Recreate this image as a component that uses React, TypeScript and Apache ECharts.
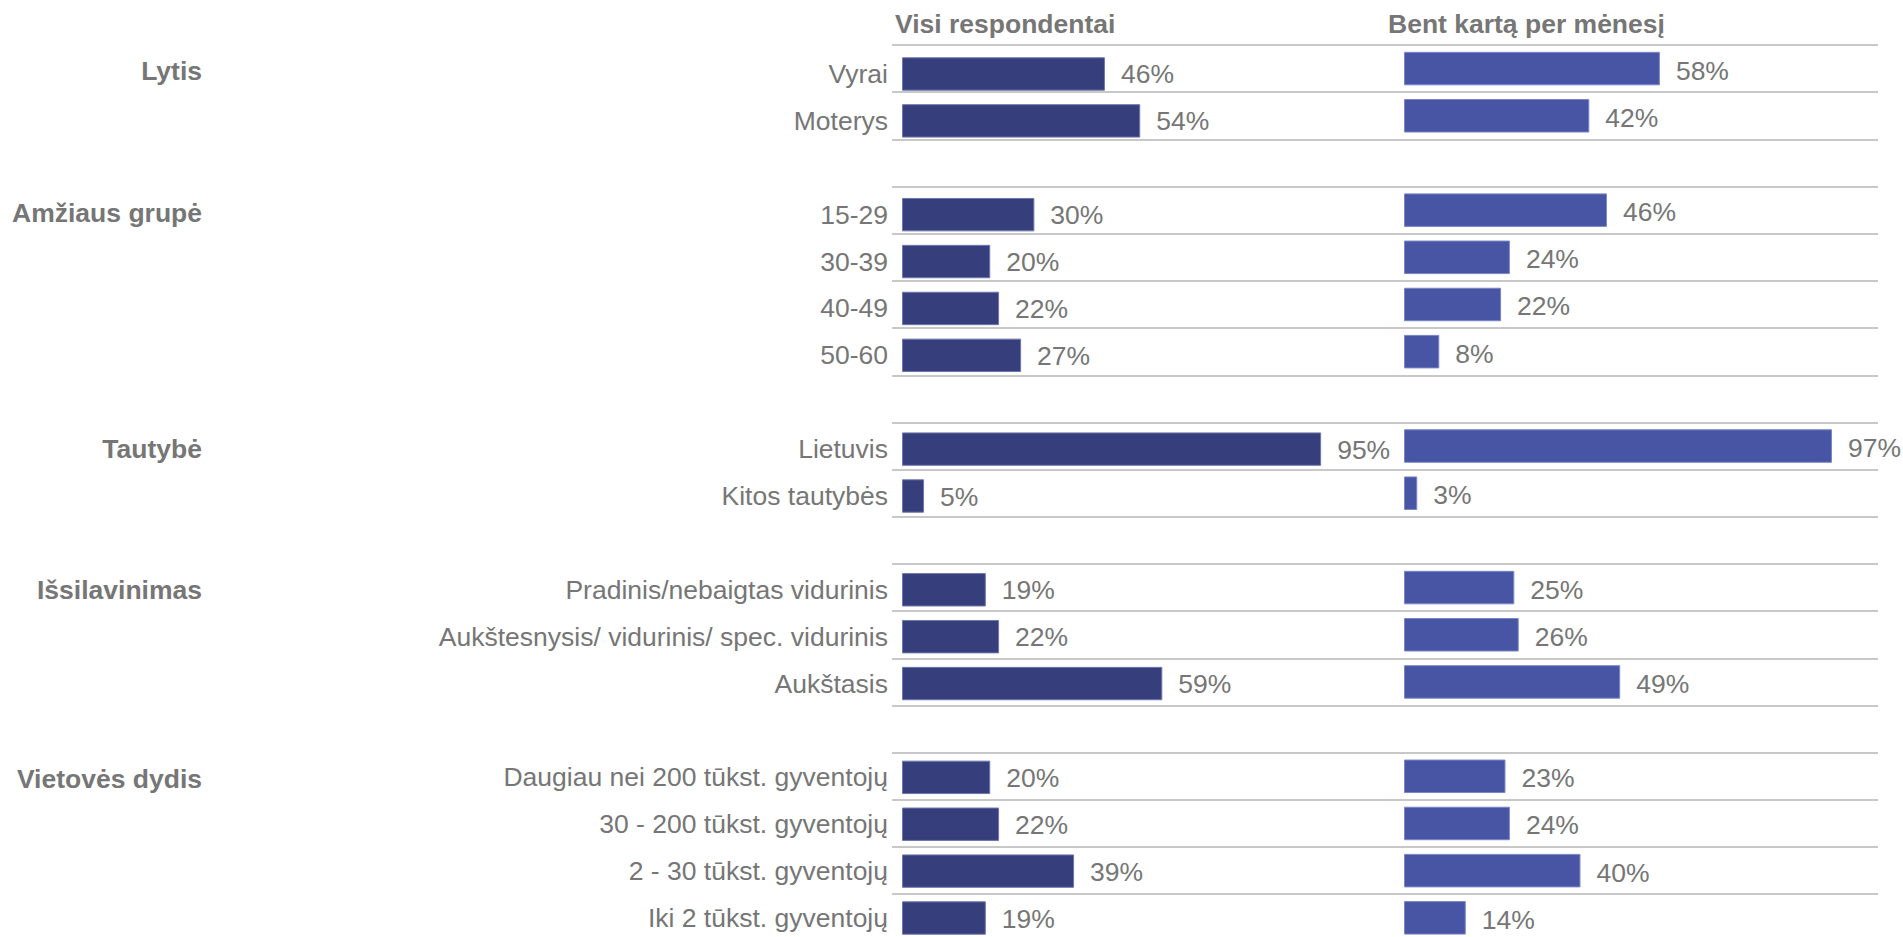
import React, { useEffect, useRef } from "react";
import * as echarts from "echarts";

// ---- data ----
const groupNames = ["Lytis", "Amžiaus grupė", "Tautybė", "Išsilavinimas", "Vietovės dydis"];
const groupCategories = [
  ["Vyrai", "Moterys"],
  ["15-29", "30-39", "40-49", "50-60"],
  ["Lietuvis", "Kitos tautybės"],
  ["Pradinis/nebaigtas vidurinis", "Aukštesnysis/ vidurinis/ spec. vidurinis", "Aukštasis"],
  ["Daugiau nei 200 tūkst. gyventojų", "30 - 200 tūkst. gyventojų", "2 - 30 tūkst. gyventojų", "Iki 2 tūkst. gyventojų"],
];
const visiRespondentai = [
  [46, 54],
  [30, 20, 22, 27],
  [95, 5],
  [19, 22, 59],
  [20, 22, 39, 19],
];
const bentKartaPerMenesi = [
  [58, 42],
  [46, 24, 22, 8],
  [97, 3],
  [25, 26, 49],
  [23, 24, 40, 14],
];
const panelTitles = ["Visi respondentai", "Bent kartą per mėnesį"];

// ---- build rows (blank row between groups) ----
const rowLabels: string[] = [];
const rowGroups: string[] = [];
const leftValues: (number | string)[] = [];
const rightValues: (number | string)[] = [];
groupCategories.forEach((cats, gi) => {
  if (gi > 0) {
    rowLabels.push("");
    rowGroups.push("");
    leftValues.push("-");
    rightValues.push("-");
  }
  cats.forEach((c, ci) => {
    rowLabels.push(c);
    rowGroups.push(ci === 0 ? groupNames[gi] : "");
    leftValues.push(visiRespondentai[gi][ci]);
    rightValues.push(bentKartaPerMenesi[gi][ci]);
  });
});

const FONT = "'Liberation Sans', Arial, sans-serif";
const GRAY = "#767676";
const FS = 26.5;
const ROW_H = 47.18;
const LEFT_ROW_H = 46.89;
const TOP = 45;
const BAR_W = 441.2;

export default function App() {
  const ref = useRef<HTMLDivElement>(null);
  useEffect(() => {
    if (!ref.current) return;
    const chart = echarts.init(ref.current, undefined, { renderer: "svg" });
    const n = rowLabels.length;
    const hiddenCat = {
      type: "category",
      data: rowLabels,
      inverse: true,
      axisLine: { show: false },
      axisTick: { show: false },
      axisLabel: { show: false },
      splitLine: { show: false },
    };
    const option: any = {
      animation: false,
      backgroundColor: "#ffffff",
      textStyle: { fontFamily: FONT },
      grid: [
        { left: 892, top: TOP, width: 986, height: ROW_H * n },
        { left: 902, top: 50.55, width: BAR_W, height: LEFT_ROW_H * n },
        { left: 1404, top: TOP, width: BAR_W, height: ROW_H * n },
        { left: 892, top: TOP + 2.7, width: 986, height: ROW_H * n },
      ],
      xAxis: [
        { gridIndex: 0, type: "value", min: 0, max: 1, show: false },
        { gridIndex: 1, type: "value", min: 0, max: 100, show: false },
        { gridIndex: 2, type: "value", min: 0, max: 100, show: false },
        { gridIndex: 3, type: "value", min: 0, max: 1, show: false },
      ],
      yAxis: [
        {
          gridIndex: 0,
          type: "category",
          data: rowLabels,
          inverse: true,
          axisLine: { show: false },
          axisTick: { show: false },
          axisLabel: { show: false },
          splitLine: { show: true, lineStyle: { color: "#C8C8C8", width: 2 } },
        },
        {
          gridIndex: 1,
          type: "category",
          data: rowLabels,
          inverse: true,
          axisLine: { show: false },
          axisTick: { show: false },
          splitLine: { show: false },
          axisLabel: { margin: 14, fontSize: FS, color: GRAY, fontFamily: FONT },
        },
        { gridIndex: 2, ...hiddenCat },
        {
          gridIndex: 3,
          type: "category",
          data: rowGroups,
          inverse: true,
          axisLine: { show: false },
          axisTick: { show: false },
          splitLine: { show: false },
          axisLabel: { margin: 690, fontSize: FS, fontWeight: "bold", color: GRAY, fontFamily: FONT },
        },
      ],
      series: [
        { type: "scatter", xAxisIndex: 0, yAxisIndex: 0, data: [], silent: true },
        { type: "scatter", xAxisIndex: 3, yAxisIndex: 3, data: [], silent: true },
        {
          type: "bar",
          name: panelTitles[0],
          xAxisIndex: 1,
          yAxisIndex: 1,
          data: leftValues,
          barWidth: 33.4,
          itemStyle: { color: "#363F7B", borderColor: "#6E77AE", borderWidth: 1 },
          label: {
            show: true,
            position: "right",
            distance: 16,
            offset: [0, 0.5],
            formatter: "{c}%",
            fontSize: FS,
            color: GRAY,
            fontFamily: FONT,
          },
        },
        {
          type: "bar",
          name: panelTitles[1],
          xAxisIndex: 2,
          yAxisIndex: 2,
          data: rightValues,
          barWidth: 33.5,
          itemStyle: { color: "#4755A4", borderColor: "#7B86C6", borderWidth: 1 },
          label: {
            show: true,
            position: "right",
            distance: 16,
            offset: [0, 2],
            formatter: "{c}%",
            fontSize: FS,
            color: GRAY,
            fontFamily: FONT,
          },
        },
      ],
      graphic: [
        {
          type: "text",
          left: 895,
          top: 10,
          style: { text: panelTitles[0], font: `bold ${FS}px ${FONT}`, fill: GRAY },
        },
        {
          type: "text",
          left: 1388,
          top: 10,
          style: { text: panelTitles[1], font: `bold ${FS}px ${FONT}`, fill: GRAY },
        },
      ],
    };
    chart.setOption(option);
    return () => chart.dispose();
  }, []);
  return (
    <div style={{ position: "fixed", left: 0, top: 0, width: 1903, height: 937, overflow: "hidden", background: "#fff" }}>
      <div ref={ref} style={{ width: 1903, height: 960 }} />
    </div>
  );
}
